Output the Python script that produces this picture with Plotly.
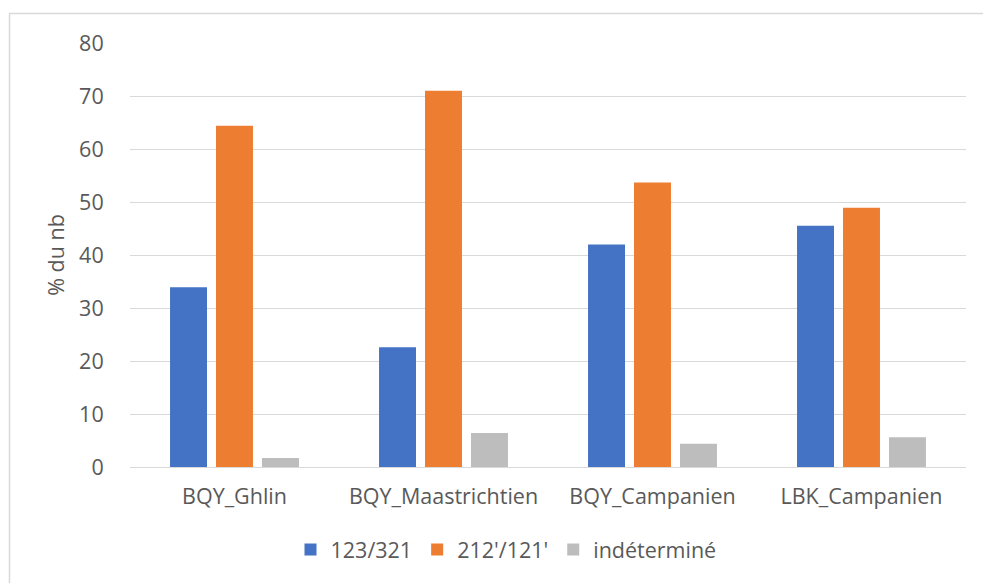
import plotly.graph_objects as go

categories = ["BQY_Ghlin", "BQY_Maastrichtien", "BQY_Campanien", "LBK_Campanien"]
series_names = ["123/321", "212'/121'", "indéterminé"]
vals_123 = [33.9, 22.6, 42.0, 45.5]
vals_212 = [64.4, 71.0, 53.7, 48.9]
vals_ind = [1.7, 6.4, 4.4, 5.6]
colors = ["#4472C4", "#ED7D31", "#BDBDBD"]
y_ticks = [0, 10, 20, 30, 40, 50, 60, 70, 80]

FONT = "Open Sans"
TXT = "#595959"
FS = 21.5

fig = go.Figure()
for name, vals, col in zip(series_names, [vals_123, vals_212, vals_ind], colors):
    fig.add_trace(go.Bar(x=categories, y=vals, name=name, marker_color=col,
                         marker_line_width=0))

W, H = 983, 583
ml, mr, mt, mb = 130, 17, 43, 115.5
fig.update_layout(
    width=W, height=H,
    margin=dict(l=ml, r=mr, t=mt, b=mb, pad=0),
    paper_bgcolor="white", plot_bgcolor="white",
    barmode="group", bargap=0.34, bargroupgap=0.196,
    font=dict(family=FONT, size=FS, color=TXT),
    showlegend=True,
    legend=dict(orientation="h", x=(506 - ml) / (W - ml - mr), xanchor="center",
                y=(467.5 - 550) / (H - mt - mb), yanchor="middle",
                font=dict(family=FONT, size=21.5, color=TXT),
                itemwidth=30, traceorder="normal"),
    xaxis=dict(showgrid=False, showline=False, zeroline=False,
               ticks="outside", ticklen=10, tickcolor="rgba(0,0,0,0)",
               tickfont=dict(family=FONT, size=FS, color=TXT)),
    yaxis=dict(range=[0, 80], tickvals=y_ticks, showgrid=True,
               gridcolor="#D9D9D9", gridwidth=1, zeroline=True,
               zerolinecolor="#D9D9D9", zerolinewidth=1, showline=False,
               ticks="outside", ticklen=21, tickcolor="rgba(0,0,0,0)",
               tickfont=dict(family=FONT, size=FS, color=TXT),
               title=dict(text="% du nb", standoff=8,
                          font=dict(family=FONT, size=FS, color=TXT))),
)

# chart border (partially visible: top and left)
fig.add_shape(type="line", xref="paper", yref="paper",
              x0=(9 - ml) / (W - ml - mr), x1=(983 - ml) / (W - ml - mr),
              y0=(H - mb - 13.5) / (H - mt - mb), y1=(H - mb - 13.5) / (H - mt - mb),
              line=dict(color="#D9D9D9", width=1.5))
fig.add_shape(type="line", xref="paper", yref="paper",
              x0=(9.5 - ml) / (W - ml - mr), x1=(9.5 - ml) / (W - ml - mr),
              y0=(H - mb - 13.5) / (H - mt - mb), y1=(H - mb - 590) / (H - mt - mb),
              line=dict(color="#D9D9D9", width=1.5))

fig.write_html("out.html", config={"displayModeBar": False},
               post_script="document.body.style.margin='0';document.body.style.overflow='hidden';")
